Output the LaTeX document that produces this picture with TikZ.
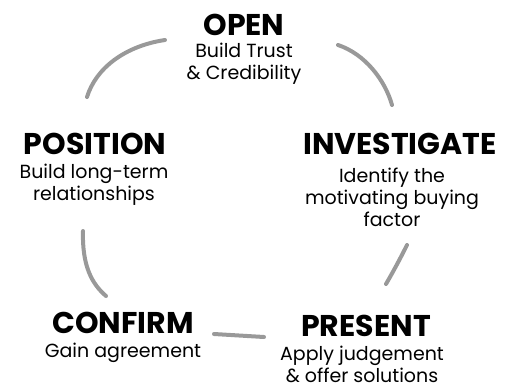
\documentclass[tikz,border=0pt]{standalone}
\usepackage{fontspec}
\setmainfont{Poppins}
\usetikzlibrary{positioning}
\tikzset{
  stage/.style={font=\fontsize{30}{32}\selectfont\bfseries, inner sep=0pt},
  blurb/.style={font=\fontsize{19}{22}\selectfont, align=center, inner sep=0pt},
  loop/.style={line width=4pt, color=black!40, line cap=round}
}

\begin{document}
\begin{tikzpicture}[x=1pt, y=-1pt]
	%%%%% START %%%%%
	\useasboundingbox (0, 0) rectangle (513, 388);

	\node[stage] (open) at (244, 25) {OPEN};
	\node[blurb] (opentxt) at (244, 64) {Build Trust\\\& Credibility};

	\node[stage] (investigate) at (400, 144) {INVESTIGATE};
	\node[blurb] (investtxt) at (392, 197) {Identify the\\motivating buying\\factor};

	\node[stage] (present) at (366, 326) {PRESENT};
	\node[blurb] (presenttxt) at (362, 364) {Apply judgement\\\& offer solutions};

	\node[stage] (confirm) at (123, 323) {CONFIRM};
	\node[blurb] (confirmtxt) at (123, 353) {Gain agreement};

	\node[stage] (position) at (95, 144) {POSITION};
	\node[blurb] (positiontxt) at (94, 185) {Build long-term\\relationships};

	% arcs of the cycle
	\coordinate (a1) at (87, 97);   \coordinate (a2) at (165, 40);
	\coordinate (b1) at (338, 45);  \coordinate (b2) at (392, 105);
	\coordinate (c1) at (407, 245); \coordinate (c2) at (386, 284);
	\coordinate (d1) at (264, 337); \coordinate (d2) at (214, 334);
	\coordinate (e1) at (106, 296); \coordinate (e2) at (83, 231);

	\draw[loop] (a1) .. controls (96, 68) and (125, 46) .. (a2);
	\draw[loop] (b1) .. controls (365, 54) and (385, 80) .. (b2);
	\draw[loop] (c1) .. controls (400, 259) and (393, 272) .. (c2);
	\draw[loop] (d1) -- (d2);
	\draw[loop] (e1) .. controls (92, 284) and (82, 266) .. (e2);

	%%%%% END %%%%%
\end{tikzpicture}
\end{document}
